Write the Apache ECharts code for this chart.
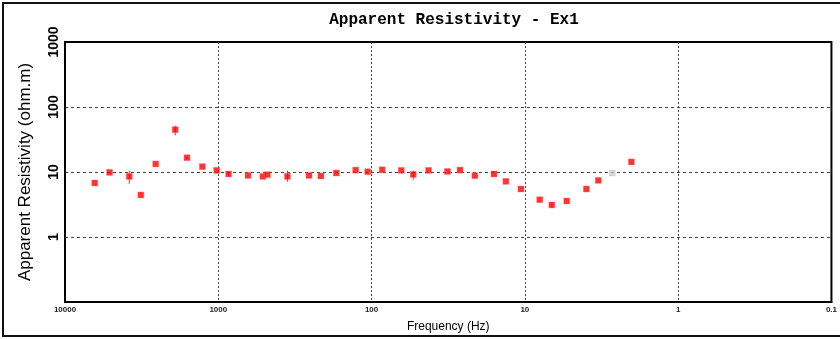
<!DOCTYPE html>
<html>
<head>
<meta charset="utf-8">
<style>
  html, body { margin: 0; padding: 0; background: #fff; }
  #chart { width: 840px; height: 339px; }
</style>
<script src="https://cdn.jsdelivr.net/npm/echarts@6/dist/echarts.min.js"></script>
</head>
<body>
<div id="chart"></div>
<script>
// Sounding frequencies (Hz) and apparent resistivity (ohm.m), Ex1 component
const freq = [6400, 5120, 3810, 3200, 2560, 1910, 1600, 1270, 1025, 857, 640, 512, 478, 354, 256, 214, 170, 127, 106, 85.3, 64, 53.5, 42.5, 32, 26.5, 21.2, 15.9, 13.3, 10.6, 8.0, 6.67, 5.33, 3.97, 3.32, 2.02];
const rho = [6.78, 9.86, 8.55, 4.43, 13.3, 44.8, 16.6, 12.1, 10.6, 9.31, 8.87, 8.55, 9.09, 8.55, 8.87, 8.68, 9.66, 10.7, 10.1, 10.8, 10.6, 9.18, 10.6, 10.2, 10.7, 8.77, 9.31, 7.17, 5.47, 3.75, 3.11, 3.58, 5.47, 7.43, 14.3];
// Error bar limits (null = bar hidden inside the marker)
const rhoLow = [null, null, 6.6, null, null, 36.6, 15.6, null, null, 8.8, null, null, null, 7.1, null, null, null, null, null, null, null, 7.6, null, null, null, null, null, null, null, null, 2.9, null, null, null, null];
const rhoHigh = [null, null, 10.5, null, null, 51.6, 17.2, null, null, 9.8, null, null, null, 10.5, null, null, null, null, null, null, null, 10.5, null, null, null, null, null, null, null, null, 3.3, null, null, null, null];
// Masked (rejected) estimate
const maskedFreq = [2.69];
const maskedRho = [9.66];

const xTicks = ['10000', '1000', '100', '10', '1', '0.1'];
const yTicks = ['1000', '100', '10', '1'];

const points = freq.map((f, i) => [f, rho[i]]);
const masked = maskedFreq.map((f, i) => [f, maskedRho[i]]);
const errors = [];
freq.forEach((f, i) => {
  if (rhoLow[i] != null && rhoHigh[i] != null) errors.push([f, rhoLow[i], rhoHigh[i]]);
});

function fmtTick(v, list) {
  const s = String(+v.toPrecision(6));
  return list.indexOf(s) >= 0 ? s : '';
}

const chart = echarts.init(document.getElementById('chart'), null, { renderer: 'canvas' });
chart.setOption({
  animation: false,
  backgroundColor: '#fff',
  title: {
    text: 'Apparent Resistivity - Ex1',
    left: 449,
    top: 7,
    textAlign: 'center',
    textStyle: { fontFamily: 'Liberation Mono', fontWeight: 'bold', fontSize: 16, color: '#000' }
  },
  graphic: [{
    type: 'rect',
    shape: { x: 3, y: 3, width: 900, height: 333 },
    style: { fill: null, stroke: '#111', lineWidth: 2 },
    silent: true
  }],
  grid: {
    left: 65, right: 4, top: 42, bottom: 37,
    show: true, borderColor: '#000', borderWidth: 2, backgroundColor: 'transparent'
  },
  xAxis: {
    type: 'log', logBase: 10, min: 0.1, max: 10000, inverse: true,
    name: 'Frequency (Hz)', nameLocation: 'middle', nameGap: 19,
    nameTextStyle: { fontFamily: 'Liberation Sans', fontSize: 12, color: '#000' },
    axisLine: { show: true, lineStyle: { color: '#000', width: 2 } },
    axisTick: { show: false },
    axisLabel: {
      margin: 4, fontFamily: 'Liberation Sans', fontWeight: 'bold', fontSize: 8, color: '#222',
      formatter: v => fmtTick(v, xTicks)
    },
    splitLine: { show: true, showMinLine: false, showMaxLine: false, lineStyle: { color: '#444', width: 1, type: [2, 2] } }
  },
  yAxis: {
    type: 'log', logBase: 10, min: 0.1, max: 1000,
    name: 'Apparent Resistivity (ohm.m)', nameLocation: 'middle', nameRotate: 90, nameGap: 31,
    nameTextStyle: { fontFamily: 'Liberation Sans', fontSize: 17, color: '#000' },
    axisLine: { show: true, lineStyle: { color: '#000', width: 2 } },
    axisTick: { show: false },
    axisLabel: {
      rotate: 90, margin: 4, fontFamily: 'Liberation Sans', fontWeight: 'bold', fontSize: 14, color: '#000',
      formatter: v => fmtTick(v, yTicks)
    },
    splitLine: { show: true, showMinLine: false, showMaxLine: false, lineStyle: { color: '#444', width: 1, type: [3, 3] } }
  },
  series: [
    {
      type: 'custom',
      name: 'error',
      data: errors,
      z: 3,
      renderItem: function (params, api) {
        const lo = api.coord([api.value(0), api.value(1)]);
        const hi = api.coord([api.value(0), api.value(2)]);
        return {
          type: 'line',
          shape: { x1: lo[0], y1: lo[1], x2: hi[0], y2: hi[1] },
          style: { stroke: '#ff2020', lineWidth: 1 }
        };
      }
    },
    {
      type: 'scatter',
      name: 'rho',
      data: points,
      symbol: 'rect',
      symbolSize: 6,
      z: 4,
      itemStyle: { color: '#ff0000', borderColor: 'rgba(255,110,110,0.5)', borderWidth: 1 }
    },
    {
      type: 'scatter',
      name: 'masked',
      data: masked,
      symbol: 'rect',
      symbolSize: 6,
      z: 4,
      itemStyle: { color: '#c8c8c8', borderColor: 'rgba(210,210,210,0.6)', borderWidth: 1 }
    }
  ]
});
</script>
</body>
</html>
